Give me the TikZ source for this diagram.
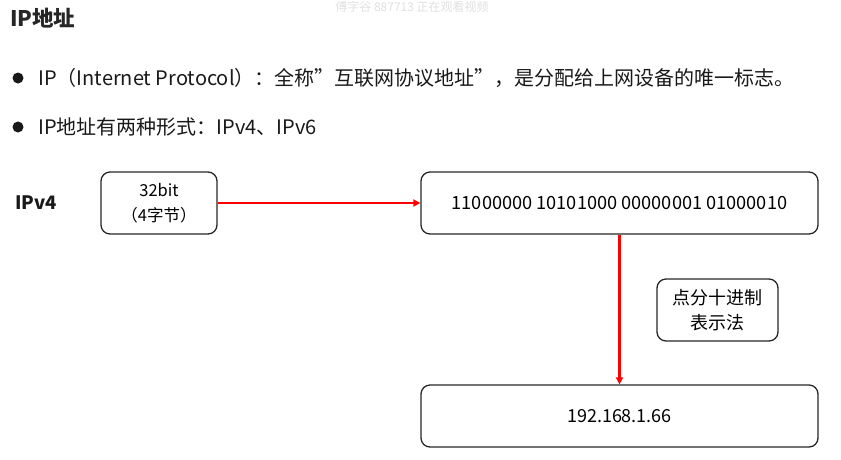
\documentclass[tikz,border=0pt]{standalone}
\usepackage{fontspec}
\setmainfont{Noto Sans CJK SC}
\usetikzlibrary{arrows.meta}
\tikzset{
  box/.style={draw=black!85, line width=1.3pt, rounded corners=9pt, align=center, inner sep=0pt},
  redline/.style={draw=red, line width=2.4pt, -{Triangle[length=7pt,width=7pt]}},
  txt/.style={anchor=west, inner sep=0pt},
}
\begin{document}
\begin{tikzpicture}[x=1pt,y=-1pt]
\useasboundingbox (0,0) rectangle (841,459);
\node[text=black!12, anchor=center, font=\fontsize{12}{12}\selectfont, inner sep=0pt] (wm) at (412,6.5) {傅字谷 887713 正在观看视频};
\node[txt, font=\fontsize{21.5}{21.5}\selectfont\bfseries, text=black!85] (title) at (10,18) {IP地址};
\fill[black!90] (18,78) circle (5.5);
\node[txt, font=\fontsize{20}{20}\selectfont, text=black!90] (b1) at (38,78) {IP（Internet Protocol）：全称”互联网协议地址”，是分配给上网设备的唯一标志。};
\fill[black!90] (18,127) circle (5.5);
\node[txt, font=\fontsize{20}{20}\selectfont, text=black!90] (b2) at (38,127) {IP地址有两种形式：IPv4、IPv6};
\node[txt, font=\fontsize{18.5}{18.5}\selectfont\bfseries, text=black!90] (ipv4) at (15,203) {IPv4};
\node[box, minimum width=116pt, minimum height=62pt, font=\fontsize{16.5}{25}\selectfont] (bits) at (159,203) {32bit\\（4字节）};
\node[box, minimum width=397pt, minimum height=62pt, font=\fontsize{18.2}{18}\selectfont] (bin) at (619.5,203) {11000000 10101000 00000001 01000010};
\node[box, minimum width=397pt, minimum height=62pt, font=\fontsize{18}{18}\selectfont] (dec) at (619.5,416) {192.168.1.66};
\node[box, minimum width=121pt, minimum height=62pt, font=\fontsize{18}{25}\selectfont] (note) at (717.5,310) {点分十进制\\表示法};
\draw[redline] (bits) -- (bin);
\draw[redline] (bin.south) -- (dec.north);
\end{tikzpicture}
\end{document}
